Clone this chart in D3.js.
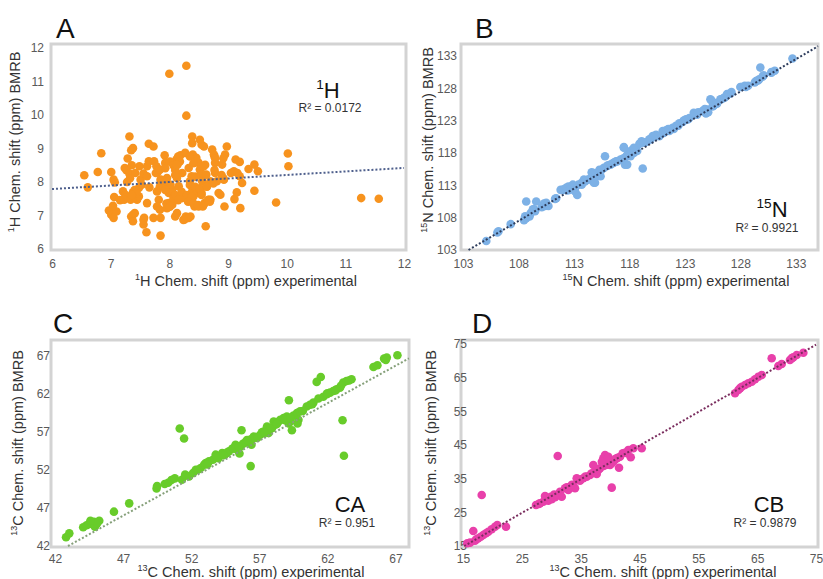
<!DOCTYPE html>
<html>
<head>
<meta charset="utf-8">
<script src="https://cdn.jsdelivr.net/npm/d3@7"></script>
<style>
  body { margin: 0; background: #fff; }
  text { font-family: "Liberation Sans", Arial, sans-serif; }
</style>
</head>
<body>
<script>
// 画布
const width = 823;
const height = 579;

// tick labels
const hTicks = [6, 7, 8, 9, 10, 11, 12];
const nTicks = [103, 108, 113, 118, 123, 128, 133];
const caTicks = [42, 47, 52, 57, 62, 67];
const cbTicks = [15, 25, 35, 45, 55, 65, 75];

// trend lines [slope, intercept] and R²
const hTrend = [0.105, 7.16];
const nTrend = [1.0, -0.5];
const caTrend = [0.982, -0.18];
const cbTrend = [1.0, -0.2];
const r2 = ['0.0172', '0.9921', '0.951', '0.9879'];

// [experimental, BMRB]
const hPoints = [
  [6.55,8.2],[6.78,8.3],[6.61,7.84],[6.84,8.86],[7.01,8.3],[7.05,8.07],[7.07,7.99],[7.06,7.55],[6.97,7.15],[7.01,7.02],
  [7.05,6.93],[7.1,7.12],[7.04,7.29],[7.32,9.36],[7.38,9.01],[7.35,8.95],[7.29,8.7],[7.24,8.42],[7.27,8.35],[7.32,8.25],
  [7.42,8.27],[7.36,8.5],[7.28,8.0],[7.21,7.72],[7.25,7.62],[7.23,7.47],[7.34,7.47],[7.38,7.69],[7.41,7.75],[7.38,7.02],
  [7.35,6.97],[7.38,6.83],[7.41,7.07],[7.45,7.47],[7.48,7.57],[7.48,7.82],[7.53,7.92],[7.51,8.07],[7.56,8.25],[7.62,8.17],
  [7.62,8.47],[7.49,8.47],[7.57,6.93],[7.56,6.73],[7.61,6.5],[7.62,7.37],[7.66,7.84],[7.65,8.62],[7.65,9.14],[7.73,9.06],
  [7.74,8.62],[7.78,8.47],[7.8,8.29],[7.77,8.27],[7.84,8.37],[7.85,8.07],[7.84,7.87],[7.79,7.72],[7.82,7.47],[7.79,7.27],
  [7.84,7.17],[7.73,6.93],[7.85,6.93],[7.85,6.4],[7.92,8.8],[7.93,8.57],[7.96,8.12],[7.91,7.97],[7.95,7.77],[7.99,7.67],
  [8.05,7.77],[8.02,7.92],[7.99,7.37],[7.96,7.22],[8.05,7.32],[8.07,7.52],[8.06,8.57],[8.12,8.67],[8.14,8.52],[8.19,8.8],
  [8.22,8.27],[8.13,8.12],[8.16,7.87],[8.22,7.52],[8.13,7.07],[8.1,6.97],[8.26,6.88],[8.28,6.97],[8.33,6.93],[8.36,6.97],
  [8.27,8.87],[8.33,8.42],[8.35,8.02],[8.38,8.17],[8.39,9.36],[8.39,9.16],[8.4,8.82],[8.39,7.72],[8.36,7.47],[8.41,7.57],
  [8.47,7.67],[8.43,7.27],[8.5,7.27],[8.52,9.26],[8.55,9.11],[8.59,9.06],[8.5,8.57],[8.46,8.72],[8.52,8.37],[8.54,8.22],
  [8.56,8.02],[8.52,7.77],[8.55,7.67],[8.6,7.37],[8.57,7.27],[8.62,6.68],[8.63,8.22],[8.64,7.87],[8.67,7.47],[8.7,7.47],
  [8.7,8.02],[8.73,8.97],[8.76,8.82],[8.77,8.77],[8.78,8.57],[8.78,8.27],[8.81,8.02],[8.84,7.67],[8.87,7.62],[8.9,8.52],
  [8.93,8.07],[8.94,7.27],[8.95,8.82],[8.98,9.06],[9.05,8.27],[9.1,8.32],[9.11,7.49],[9.13,8.67],[9.15,7.69],[9.16,8.27],
  [9.2,8.6],[9.2,8.17],[9.21,7.22],[9.24,7.97],[9.35,8.39],[9.45,8.52],[9.45,7.74],[9.51,8.32],[9.82,7.39],[10.02,8.85],
  [10.03,8.47],[11.27,7.52],[11.57,7.5],[8.29,11.47],[8.0,11.23],[8.29,9.98],[7.33,8.11],[7.93,8.41],[8.01,8.61],[8.07,8.5],
  [8.1,8.36],[7.87,8.06],[7.95,8.01],[7.41,7.76],[7.44,7.66],[7.36,7.61],[7.16,7.46],[7.93,7.76],[8.1,7.61],[7.95,7.36],
  [8.01,7.26],[7.56,6.87],[8.78,8.71],[8.92,8.71],[8.15,8.76],[8.18,8.61],[8.13,8.51],[8.35,8.76],[8.41,8.56],[8.58,8.46],
  [8.61,8.51],[8.77,8.36],[8.89,8.21],[8.92,8.11],[8.75,7.96],[8.1,8.21],[8.44,8.16],[8.35,7.91],[8.44,7.86],[8.52,7.81],
  [8.64,7.86],[8.21,7.71],[8.3,7.61],[8.38,7.56],[8.55,7.61],[8.15,7.46],[8.32,7.41],[8.41,7.36],[8.49,7.31],[8.58,7.31],
  [8.66,7.46],[8.69,7.41],[8.24,6.87]
];

const nPoints = [
  [105.1,104.4],[106.1,105.7],[106.2,105.9],[107.3,107.0],[108.5,107.6],[108.6,108.2],[108.7,110.5],[109.1,108.7],[109.4,109.3],[109.6,110.5],
  [110.3,110.2],[110.4,109.8],[111.3,110.9],[111.8,112.3],[112.1,112.4],[112.4,112.2],[112.5,112.8],[112.8,112.9],[113.1,112.6],[113.3,111.5],
  [113.4,113.1],[113.7,113.4],[113.9,113.9],[114.3,113.9],[114.6,115.0],[114.8,113.4],[115.1,114.4],[115.3,115.4],[115.7,115.7],[115.8,117.5],
  [116.1,116.1],[116.5,116.4],[116.8,116.7],[117.4,117.1],[117.5,118.9],[117.6,116.2],[117.8,117.7],[118.0,118.1],[118.2,118.4],[118.4,118.5],
  [118.9,119.4],[119.1,119.8],[119.2,115.6],[119.5,119.7],[119.8,120.1],[120.1,120.6],[120.4,120.8],[120.7,120.6],[121.0,121.4],[121.3,121.5],
  [121.6,121.4],[121.9,121.9],[122.2,122.2],[122.5,122.6],[122.8,122.8],[123.1,123.2],[123.4,123.4],[123.8,124.2],[124.1,123.9],[124.6,124.5],
  [124.9,124.1],[125.0,124.7],[125.3,126.3],[125.5,125.2],[125.8,125.7],[126.2,126.3],[126.5,126.5],[126.8,127.1],[127.1,127.2],[128.0,128.2],
  [128.5,128.2],[129.4,129.1],[129.7,129.4],[129.8,131.2],[130.0,129.8],[130.8,130.4],[131.1,130.7],[132.7,132.6],
  [108.7,107.9],[109.0,108.2],[109.5,109.0],[109.3,109.3],[110.1,109.6],[110.5,110.3],[110.7,109.8],[111.4,111.0],[112.0,112.3],[112.3,112.6],
  [112.6,112.3],[112.9,113.1],[113.1,112.1],[113.7,113.1],[114.0,113.6],[114.3,113.9],[114.6,114.2],[114.8,114.9],[114.9,113.4],[115.4,114.4],
  [115.5,115.4],[116.0,116.0],[116.3,116.2],[116.6,116.5],[116.9,116.7],[117.2,117.0],[117.5,118.8],[117.6,117.3],[117.8,116.2],[118.1,117.5],
  [118.4,118.0],[118.7,118.3],[118.4,118.8],[119.3,119.6],[119.9,120.1],[120.3,120.6],[121.1,121.1],[121.5,121.7],[122.0,121.7],[122.4,122.2],
  [122.9,123.0],[123.3,123.2],[123.9,124.0],[124.2,124.3],[124.8,124.8],[125.1,124.3],[125.4,126.1],[125.6,125.3],[125.9,125.6],[126.3,126.3],
  [126.6,126.6],[126.9,127.1],[127.2,127.4],[128.1,128.2],[128.4,128.4],[128.7,128.4],[129.3,128.9],[129.6,129.2],[130.1,130.0],[130.8,130.5]
];

const caPoints = [
  [42.81,43.14],[43.05,43.66],[44.07,44.45],[44.32,44.71],[44.51,44.88],[44.69,45.05],[44.86,45.18],[45.06,44.97],[45.25,45.31],[44.93,44.53],
  [46.33,46.5],[47.45,47.59],[49.46,49.55],[49.5,49.85],[50.06,50.12],[50.31,50.29],[50.55,50.64],[50.8,50.86],[51.16,57.4],[51.48,56.09],
  [51.32,50.69],[51.56,51.35],[51.85,51.13],[52.14,51.57],[52.34,52.0],[52.7,52.22],[52.95,52.66],[53.07,52.88],[53.31,53.09],[53.6,53.31],
  [53.8,53.97],[54.04,53.75],[54.28,54.19],[54.53,54.06],[54.77,54.4],[55.01,54.75],[55.26,55.27],[55.38,54.62],[55.62,55.05],[55.55,54.13],
  [55.7,57.18],[55.93,55.49],[56.06,55.71],[56.3,55.93],[56.43,55.27],[56.37,52.47],[56.6,56.36],[56.84,56.15],[57.08,56.58],[57.32,57.01],
  [57.57,57.67],[57.69,56.8],[57.94,57.45],[58.06,58.32],[58.18,57.89],[58.42,58.32],[58.55,58.55],[58.79,58.77],[59.03,58.98],[59.16,58.05],
  [59.28,58.32],[59.4,57.18],[59.18,61.11],[59.52,59.11],[59.77,59.42],[59.88,58.55],[59.81,58.05],[60.0,59.64],[60.49,60.29],[60.73,60.51],
  [60.98,60.8],[61.22,63.51],[61.52,64.16],[61.35,61.34],[61.71,61.56],[61.96,61.88],[62.2,62.1],[62.44,62.32],[62.68,62.54],[62.93,62.75],
  [63.12,58.49],[63.22,53.82],[63.17,63.41],[63.41,63.63],[63.78,63.85],[65.39,65.47],[65.68,65.69],[66.17,66.56],[66.37,66.69],[67.15,67.0],
  [52.5,52.0],[53.2,52.7],[54.0,53.5],[54.6,54.2],[55.1,54.8],[55.8,55.4],[56.5,56.1],[57.2,56.9],[57.8,57.4],[58.3,58.0],
  [58.9,58.5],[59.3,58.8],[60.2,59.7],[60.9,60.6],[53.9,53.7],[54.4,53.9],[55.5,55.0],[56.1,55.9],[56.9,56.3],[57.4,56.8],
  [62.0,62.0],[62.6,62.4],[63.0,63.0],[63.6,63.7],[66.3,66.4],[45.1,45.0],[44.6,45.3]
];

const cbPoints = [
  [15.73,15.8],[16.75,19.46],[17.04,16.57],[17.6,17.29],[18.01,17.76],[18.45,18.27],[18.91,18.77],[19.3,19.25],[19.88,19.96],[20.44,20.73],
  [20.83,21.24],[18.18,30.15],[22.31,20.73],[27.41,27.18],[28.09,27.68],[28.94,29.85],[28.65,28.16],[29.5,28.46],[30.08,28.87],[30.64,29.46],
  [31.2,30.15],[31.49,31.13],[31.78,29.64],[32.34,32.14],[32.9,31.63],[33.19,32.61],[33.75,33.12],[34.04,32.14],[34.33,35.11],[34.89,34.39],
  [35.45,35.11],[36.03,35.58],[36.59,36.09],[37.15,39.06],[36.88,36.59],[37.44,37.07],[37.73,36.39],[38.0,37.57],[38.29,38.08],[38.85,41.05],
  [39.14,42.03],[39.43,40.34],[39.7,41.52],[39.99,39.06],[40.28,32.33],[40.28,39.56],[40.55,40.04],[41.13,41.05],[41.52,38.26],[41.69,41.52],
  [42.15,42.53],[42.54,42.71],[43.1,43.51],[43.51,41.34],[43.95,44.02],[45.38,44.02],[31.1,41.73],
  [61.24,60.35],[61.8,61.33],[62.38,62.31],[62.94,62.82],[63.5,63.32],[64.08,63.79],[64.64,64.51],[65.2,65.28],[65.78,65.79],[67.47,70.75],
  [68.6,68.46],[69.17,69.05],[70.58,70.24],[71.15,71.04],[71.72,71.73],[72.85,72.41],
  [27.9,27.5],[29.9,29.6],[30.5,30.3],[32.6,32.4],[33.5,33.2],[35.0,34.8],[35.8,35.6],[37.9,37.8],[38.9,38.8],[39.3,39.1],
  [40.0,39.9],[40.9,40.8],[41.3,41.2],[42.8,42.6],[39.6,40.9],[38.6,40.0],[17.3,17.0],[16.2,16.0],[62.1,61.9],[70.9,70.8]
];

const panels = [
  { key: 'A', points: hPoints, color: '#f7931e', trend: hTrend, trendColor: '#4e5f8c', r2: r2[0],
    ticks: hTicks, xDomain: [6, 12], yDomain: [6, 12], xRange: [52, 404], yRange: [249, 48],
    frame: [51, 44, 406, 250], xPad: 9, yPad: 7,
    letter: [56, 38], sup: '1', nucleus: 'H', tag: [328, 98], r2Pos: [330, 112],
    xTitle: [246, 286], yTitle: [20, 142], supTitle: '1', nameTitle: 'H' },
  { key: 'B', points: nPoints, color: '#7db1e6', trend: nTrend, trendColor: '#2e3d5c', r2: r2[1],
    ticks: nTicks, xDomain: [103, 135], yDomain: [103, 135], xRange: [463, 818], yRange: [250, 43],
    frame: [461, 44, 818, 250], xPad: 9, yPad: 4,
    letter: [475, 38], sup: '15', nucleus: 'N', tag: [772, 217], r2Pos: [767, 232],
    xTitle: [676, 286], yTitle: [433, 140], supTitle: '15', nameTitle: 'N' },
  { key: 'C', points: caPoints, color: '#68cc2a', trend: caTrend, trendColor: '#86a07a', r2: r2[2],
    ticks: caTicks, xDomain: [42, 68], yDomain: [42, 69], xRange: [55, 409], yRange: [546, 340],
    frame: [51, 340, 409, 547], xPad: 7, yPad: 1,
    letter: [53, 333], sup: '', nucleus: 'CA', tag: [350, 512], r2Pos: [347, 527],
    xTitle: [251, 577], yTitle: [23, 443], supTitle: '13', nameTitle: 'C' },
  { key: 'D', points: cbPoints, color: '#e840aa', trend: cbTrend, trendColor: '#7a2d5e', r2: r2[3],
    ticks: cbTicks, xDomain: [15, 75], yDomain: [15, 75], xRange: [463, 816], yRange: [546, 344],
    frame: [461, 340, 818, 547], xPad: 7, yPad: -6,
    letter: [472, 333], sup: '', nucleus: 'CB', tag: [769, 512], r2Pos: [765, 527],
    xTitle: [663, 577], yTitle: [436, 443], supTitle: '13', nameTitle: 'C' }
];

const svg = d3.select('body')
  .append('svg')
  .attr('width', width)
  .attr('height', height);

// text with a superscript in front
function supText(g, x, y, sup, main, size, color, rotate) {
  const t = g.append('text')
    .attr('text-anchor', 'middle')
    .attr('font-size', size)
    .attr('fill', color);
  if (rotate) {
    t.attr('transform', 'translate(' + x + ',' + y + ') rotate(-90)');
  } else {
    t.attr('x', x).attr('y', y);
  }
  if (sup) {
    t.append('tspan').attr('font-size', size * 0.62).attr('dy', -size * 0.4).text(sup);
    t.append('tspan').attr('dy', size * 0.4).text(main);
  } else {
    t.append('tspan').text(main);
  }
  return t;
}

panels.forEach(p => {
  const g = svg.append('g');
  const x = d3.scaleLinear().domain(p.xDomain).range(p.xRange);
  const y = d3.scaleLinear().domain(p.yDomain).range(p.yRange);
  const [fx0, fy0, fx1, fy1] = p.frame;

  // 边框
  g.append('rect')
    .attr('x', fx0).attr('y', fy0)
    .attr('width', fx1 - fx0).attr('height', fy1 - fy0)
    .attr('fill', '#fff')
    .attr('stroke', '#d3d3d3')
    .attr('stroke-width', 3);

  // 坐标轴
  const fmt = d3.format('d');
  const xAxis = d3.axisBottom(x).tickValues(p.ticks).tickFormat(fmt).tickSize(0).tickPadding(p.xPad);
  const yAxis = d3.axisLeft(y).tickValues(p.ticks).tickFormat(fmt).tickSize(0).tickPadding(p.yPad);
  g.append('g')
    .attr('transform', 'translate(0,' + fy1 + ')')
    .call(xAxis)
    .call(a => a.select('.domain').remove());
  g.append('g')
    .attr('transform', 'translate(' + fx0 + ',0)')
    .call(yAxis)
    .call(a => a.select('.domain').remove());
  g.selectAll('.tick text')
    .attr('font-family', '"Liberation Sans", Arial, sans-serif')
    .attr('font-size', 12)
    .attr('fill', '#595959');

  // 散点
  g.selectAll('circle')
    .data(p.points)
    .enter()
    .append('circle')
    .attr('cx', d => x(d[0]))
    .attr('cy', d => y(d[1]))
    .attr('r', 4.3)
    .attr('fill', p.color);

  // 趋势线
  const [m, b] = p.trend;
  const x0 = Math.max(p.xDomain[0], (p.yDomain[0] - b) / m);
  const x1 = Math.min(p.xDomain[1], (p.yDomain[1] - b) / m);
  g.append('path')
    .datum([x0, x1])
    .attr('d', d3.line().x(d => x(d)).y(d => y(m * d + b)))
    .attr('fill', 'none')
    .attr('stroke', p.trendColor)
    .attr('stroke-width', 2)
    .attr('stroke-dasharray', '2,2');

  // 面板字母
  g.append('text')
    .attr('x', p.letter[0]).attr('y', p.letter[1])
    .attr('font-size', 28)
    .attr('fill', '#111')
    .text(p.key);

  supText(g, p.tag[0], p.tag[1], p.sup, p.nucleus, 22, '#111', false);
  g.append('text')
    .attr('x', p.r2Pos[0]).attr('y', p.r2Pos[1])
    .attr('text-anchor', 'middle')
    .attr('font-size', 12)
    .attr('fill', '#333')
    .text('R² = ' + p.r2);

  supText(g, p.xTitle[0], p.xTitle[1], p.supTitle, p.nameTitle + ' Chem. shift (ppm) experimental', 14.5, '#333', false);
  supText(g, p.yTitle[0], p.yTitle[1], p.supTitle, p.nameTitle + ' Chem. shift (ppm) BMRB', 14.5, '#333', true);
});
</script>
</body>
</html>
